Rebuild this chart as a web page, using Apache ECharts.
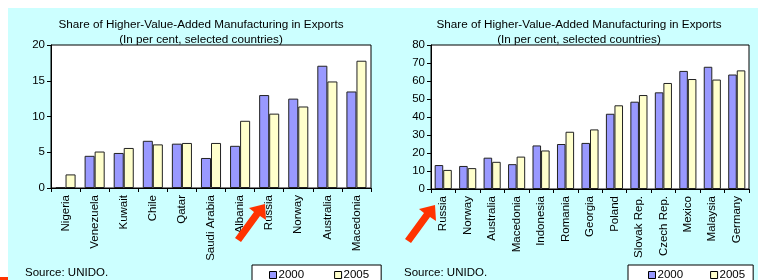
<!DOCTYPE html>
<html>
<head>
<meta charset="utf-8">
<script src="https://cdn.jsdelivr.net/npm/echarts@6/dist/echarts.min.js"></script>
<style>
  html, body { margin: 0; padding: 0; background: #fff; }
  #chart { width: 758px; height: 280px; }
</style>
</head>
<body>
<div id="chart"></div>
<script>
// left chart: low-share countries
const leftCountries = ['Nigeria', 'Venezuela', 'Kuwait', 'Chile', 'Qatar', 'Saudi Arabia', 'Albania', 'Russia', 'Norway', 'Australia', 'Macedonia'];
const left2000 = [0.1, 4.5, 4.9, 6.6, 6.2, 4.2, 5.9, 13.0, 12.5, 17.1, 13.5];
const left2005 = [1.9, 5.1, 5.6, 6.1, 6.3, 6.3, 9.4, 10.4, 11.4, 14.9, 17.8];

// right chart: higher-share countries
const rightCountries = ['Russia', 'Norway', 'Australia', 'Macedonia', 'Indonesia', 'Romania', 'Georgia', 'Poland', 'Slovak Rep.', 'Czech Rep.', 'Mexico', 'Malaysia', 'Germany'];
const right2000 = [13.3, 12.8, 17.4, 13.8, 24.2, 25.0, 25.6, 41.8, 48.5, 53.7, 65.6, 67.9, 63.6];
const right2005 = [10.6, 11.6, 15.1, 18.0, 21.4, 31.8, 33.1, 46.5, 52.2, 58.9, 61.1, 60.8, 65.9];

const seriesNames = ['2000', '2005'];
const titleText = 'Share of Higher-Value-Added Manufacturing in Exports\n(In per cent, selected countries)';

const FONT = '"Liberation Sans", Arial, sans-serif';
const BLUE = '#9999FF';
const CREAM = '#FFFFCC';

const chart = echarts.init(document.getElementById('chart'), null, { renderer: 'canvas' });

const yAxisBase = {
  type: 'value',
  min: 0,
  axisLine: { show: true, lineStyle: { color: '#000', width: 1 } },
  axisTick: { show: true, length: 4, lineStyle: { color: '#000' } },
  splitLine: { show: false },
  axisLabel: { color: '#000', fontSize: 11.5, fontFamily: FONT, margin: 6 },
};

const xAxisBase = {
  type: 'category',
  axisLine: { show: true, lineStyle: { color: '#000', width: 1 } },
  axisTick: { show: true, length: 4, alignWithLabel: false, lineStyle: { color: '#000' } },
  axisLabel: { color: '#000', fontSize: 11.5, fontFamily: FONT, rotate: 90, margin: 7, interval: 0 },
};

const barStyle = (color) => ({ color: color, borderColor: '#222', borderWidth: 1 });

const legendBase = {
  orient: 'horizontal',
  itemWidth: 7,
  itemHeight: 7,
  icon: 'rect',
  borderColor: '#000',
  borderWidth: 1,
  backgroundColor: '#fff',
  borderRadius: 0,
  textStyle: { color: '#000', fontSize: 11.5, fontFamily: FONT, padding: [0, 0, 0, -3] },
  itemStyle: { borderColor: '#000', borderWidth: 1 },
  data: seriesNames,
};

const option = {
  backgroundColor: '#fff',
  animation: false,
  textStyle: { fontFamily: FONT },
  graphic: [
    { type: 'rect', z: -10, shape: { x: 8, y: 8, width: 750, height: 272 }, style: { fill: '#CCFFFF' } },
    { type: 'rect', z: -9, shape: { x: 0, y: 277, width: 8, height: 3 }, style: { fill: '#FF3300' } },
    { type: 'text', left: 25, top: 267, z: 50, style: { text: 'Source: UNIDO.', fill: '#000', font: '11.5px ' + FONT } },
    { type: 'text', left: 404, top: 267, z: 50, style: { text: 'Source: UNIDO.', fill: '#000', font: '11.5px ' + FONT } },
    // red arrows pointing at Russia
    { type: 'polygon', z: 100, shape: { points: [[265, 204], [266, 220], [260, 216], [241, 242], [235, 238], [254, 212], [249, 208]] }, style: { fill: '#FF3300' } },
    { type: 'polygon', z: 100, shape: { points: [[435, 205], [436, 221], [430, 217], [411, 243], [405, 239], [424, 213], [419, 209]] }, style: { fill: '#FF3300' } },
  ],
  title: [
    { text: titleText, left: 196, top: 12, textAlign: 'center',
      textStyle: { fontSize: 11.7, fontWeight: 'normal', color: '#000', fontFamily: FONT, lineHeight: 15 } },
    { text: titleText, left: 574, top: 12, textAlign: 'center',
      textStyle: { fontSize: 11.7, fontWeight: 'normal', color: '#000', fontFamily: FONT, lineHeight: 15 } },
  ],
  legend: [
    Object.assign({}, legendBase, { left: 252, top: 265, itemGap: 30, padding: [4, 12, 8, 17] }),
    Object.assign({}, legendBase, { left: 628, top: 265, itemGap: 27, padding: [4, 8, 8, 20] }),
  ],
  grid: [
    { left: 51, top: 45, width: 320, height: 143, show: true, backgroundColor: '#fff', borderColor: '#000', borderWidth: 1 },
    { left: 431, top: 45, width: 318, height: 144, show: true, backgroundColor: '#fff', borderColor: '#000', borderWidth: 1 },
  ],
  xAxis: [
    Object.assign({}, xAxisBase, { gridIndex: 0, data: leftCountries }),
    Object.assign({}, xAxisBase, { gridIndex: 1, data: rightCountries }),
  ],
  yAxis: [
    Object.assign({}, yAxisBase, { gridIndex: 0, max: 20, interval: 5 }),
    Object.assign({}, yAxisBase, { gridIndex: 1, max: 80, interval: 10 }),
  ],
  series: [
    { name: seriesNames[0], type: 'bar', xAxisIndex: 0, yAxisIndex: 0, data: left2000,
      barGap: '0%', barCategoryGap: '31%', itemStyle: barStyle(BLUE) },
    { name: seriesNames[1], type: 'bar', xAxisIndex: 0, yAxisIndex: 0, data: left2005,
      barGap: '0%', barCategoryGap: '31%', itemStyle: barStyle(CREAM) },
    { name: seriesNames[0], type: 'bar', xAxisIndex: 1, yAxisIndex: 1, data: right2000,
      barGap: '0%', barCategoryGap: '30%', itemStyle: barStyle(BLUE) },
    { name: seriesNames[1], type: 'bar', xAxisIndex: 1, yAxisIndex: 1, data: right2005,
      barGap: '0%', barCategoryGap: '30%', itemStyle: barStyle(CREAM) },
  ],
};

chart.setOption(option);
</script>
</body>
</html>
